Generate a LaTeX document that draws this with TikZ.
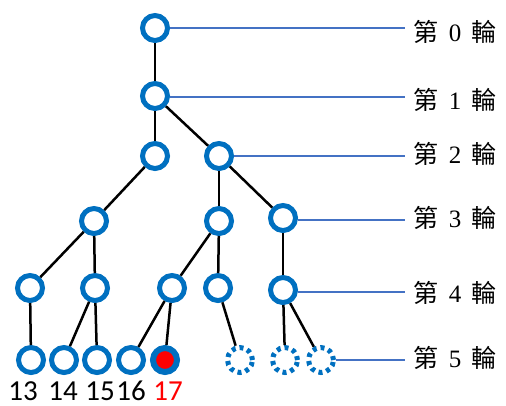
\documentclass[tikz,border=0pt]{standalone}
\usepackage{fontspec}
\setmainfont{Liberation Serif}
\newfontfamily\cjkfont{Noto Sans CJK TC}
\newfontfamily\numfont{Carlito}
\definecolor{nblue}{HTML}{0070C0}
\definecolor{lblue}{HTML}{4472C4}
\definecolor{nred}{HTML}{FF0000}
\begin{document}
\begin{tikzpicture}[x=1pt,y=-1pt,
  nd/.style={circle,draw=nblue,line width=5pt,minimum size=25pt,inner sep=0pt},
  dnd/.style={nd,dash pattern=on 4pt off 4pt},
  edge/.style={line width=2.5pt,black},
  lvl/.style={draw=lblue,line width=1.5pt},
  lab/.style={font=\fontsize{25}{25}\selectfont,anchor=center,inner sep=0pt},
  num/.style={font=\numfont\fontsize{29}{29}\selectfont,anchor=base,inner sep=0pt,text depth=0pt}
]
\useasboundingbox (0,0) rectangle (506,405);
% nodes
\node[nd] (a) at (155,28) {};
\node[nd] (b) at (155,96) {};
\node[nd] (c1) at (155,156) {};
\node[nd] (c2) at (219,156) {};
\node[nd] (d1) at (94,221) {};
\node[nd] (d2) at (219,221) {};
\node[nd] (d3) at (283,218) {};
\node[nd] (e1) at (30,288) {};
\node[nd] (e2) at (95,288) {};
\node[nd] (e3) at (172,288) {};
\node[nd] (e4) at (218,288) {};
\node[nd] (e5) at (283,290) {};
\node[nd] (f1) at (31,360) {};
\node[nd] (f2) at (64,360) {};
\node[nd] (f3) at (97,360) {};
\node[nd] (f4) at (131,360) {};
\node[nd,fill=nred,line width=6pt,minimum size=24pt] (f5) at (165,360) {};
\node[dnd] (g1) at (240,360) {};
\node[dnd] (g2) at (285,360) {};
\node[dnd] (g3) at (321,360) {};
% edges
\draw[edge] (a) -- (b);
\draw[edge] (b) -- (c1);
\draw[edge] (b) -- (c2);
\draw[edge] (c1) -- (d1);
\draw[edge] (c2) -- (d2);
\draw[edge] (c2) -- (d3);
\draw[edge] (d1) -- (e1);
\draw[edge] (d1) -- (e2);
\draw[edge] (d2) -- (e3);
\draw[edge] (d2) -- (e4);
\draw[edge] (d3) -- (e5);
\draw[edge] (e1) -- (f1);
\draw[edge] (e2) -- (f2);
\draw[edge] (e2) -- (f3);
\draw[edge] (e3) -- (f4);
\draw[edge] (e3) -- (f5);
\draw[edge] (e4) -- (g1);
\draw[edge] (e5) -- (g2);
\draw[edge] (e5) -- (g3);
% level lines
\coordinate (l0) at (405,28);
\coordinate (l1) at (405,97);
\coordinate (l2) at (405,156);
\coordinate (l3) at (405,220);
\coordinate (l4) at (405,292);
\coordinate (l5) at (405,360);
\draw[lvl] (a) -- (l0);
\draw[lvl] (b.east |- l1) -- (l1);
\draw[lvl] (c2) -- (l2);
\draw[lvl] (d3.east |- l3) -- (l3);
\draw[lvl] (e5.east |- l4) -- (l4);
\draw[lvl] (g3) -- (l5);
% level labels
\node[lab] (t0) at (455,32) {\cjkfont 第\hspace{10pt}\rmfamily 0\hspace{10pt}\cjkfont 輪};
\node[lab] (t1) at (455,100) {\cjkfont 第\hspace{10pt}\rmfamily 1\hspace{10pt}\cjkfont 輪};
\node[lab] (t2) at (455,154) {\cjkfont 第\hspace{10pt}\rmfamily 2\hspace{10pt}\cjkfont 輪};
\node[lab] (t3) at (455,218) {\cjkfont 第\hspace{10pt}\rmfamily 3\hspace{10pt}\cjkfont 輪};
\node[lab] (t4) at (455,293) {\cjkfont 第\hspace{10pt}\rmfamily 4\hspace{10pt}\cjkfont 輪};
\node[lab] (t5) at (455,358) {\cjkfont 第\hspace{10pt}\rmfamily 5\hspace{10pt}\cjkfont 輪};
% numbers
\node[num] (n13) at (23,400) {13};
\node[num] (n14) at (63,400) {14};
\node[num] (n15) at (100,400) {15};
\node[num] (n16) at (131,400) {16};
\node[num,text=nred] (n17) at (168,400) {17};
\end{tikzpicture}
\end{document}
